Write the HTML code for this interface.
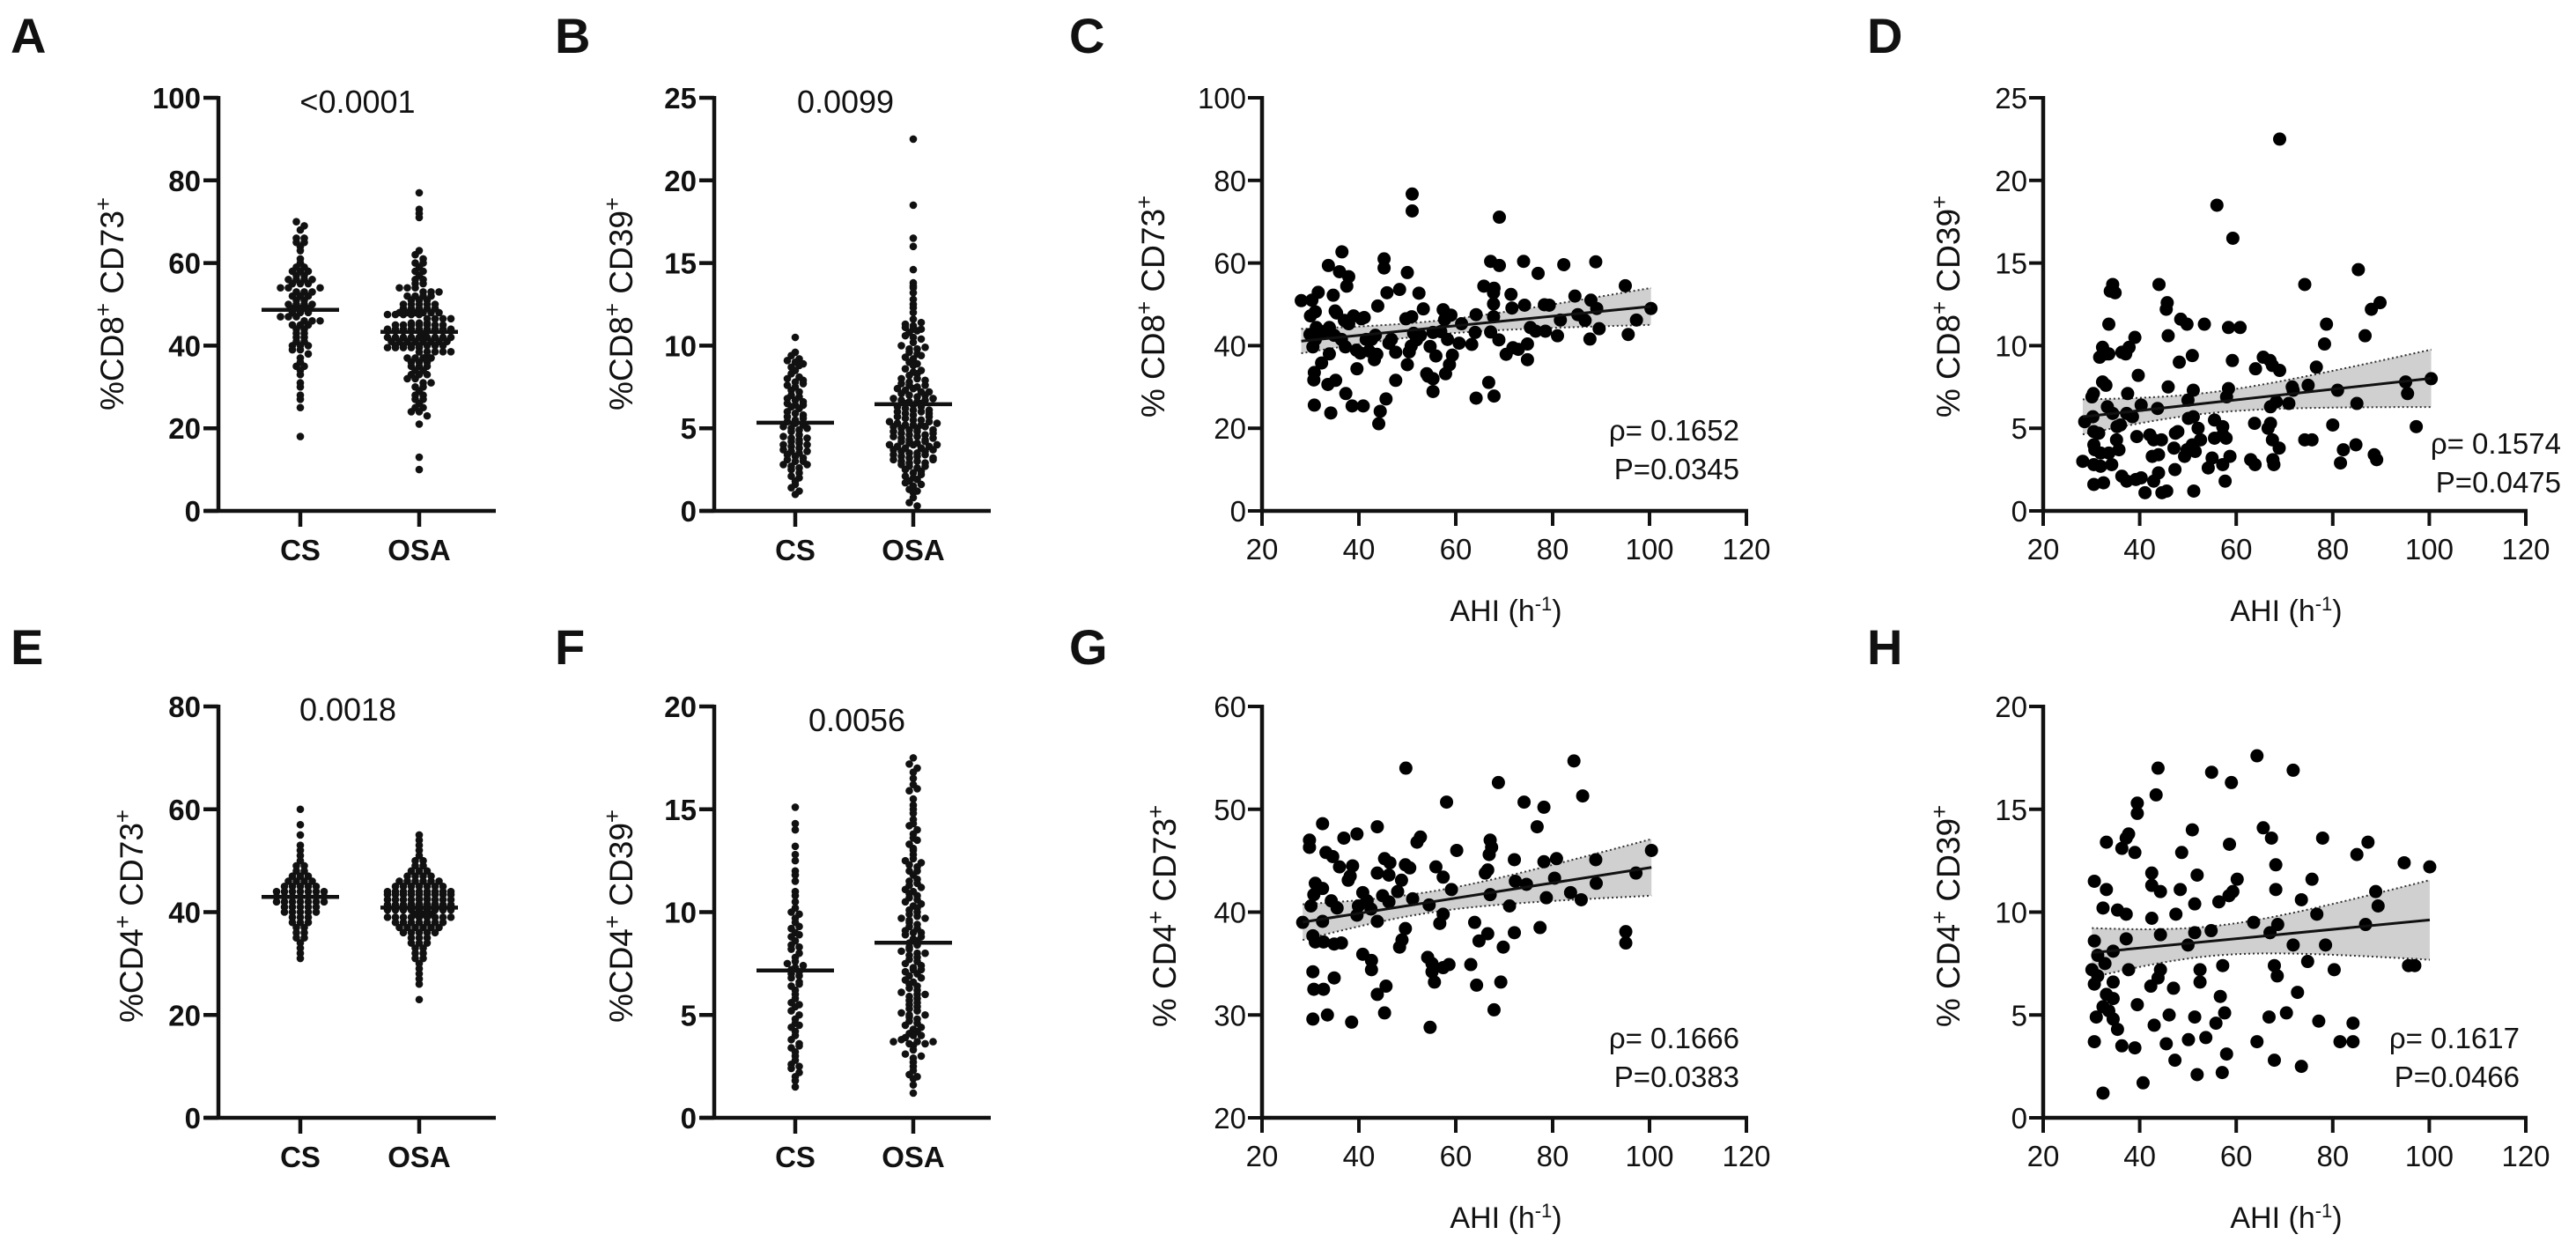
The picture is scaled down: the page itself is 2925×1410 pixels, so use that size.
<!DOCTYPE html>
<html><head><meta charset="utf-8"><style>
html,body{margin:0;padding:0;background:#fff;}
svg{display:block;font-family:"Liberation Sans",Arial,sans-serif;}
</style></head><body>
<svg id="fig" width="2925" height="1410" viewBox="0 0 2925 1410"></svg>
<script>
// ---------- DATA ----------
const catLabels = ["CS","OSA"];
const A_CS = [70,69,68,66,66,65,65,64,63,61,60,59,59,58,58,57,57,56,56,56,55,55,55,54,54,53,53,53,52,52,51,51,50,50,50,49,49,49,48,48,48,47,47,47,46,46,46,45,45,45,44,44,43,43,42,42,41,41,40,40,40,39,39,38,37,36,35,35,34,33,31,30,28,27,25,18,52,50,54,56,58];
const A_OSA = [77,73,72,71,63,62,61,60,60,59,58,58,57,56,56,55,55,54,54,54,53,53,53,52,52,52,52,51,51,51,50,50,50,50,50,49,49,49,49,49,48,48,48,48,48,47,47,47,47,47,46,46,46,46,46,46,45,45,45,45,45,45,44,44,44,44,44,44,44,43,43,43,43,43,43,43,43,42,42,42,42,42,42,42,41,41,41,41,41,41,40,40,40,40,40,40,39,39,39,39,39,38,38,38,38,37,37,37,37,36,36,36,35,35,35,34,34,33,33,33,32,32,31,31,30,30,29,28,28,27,27,26,25,25,24,24,23,21,13,10,44,43,42,41,45,46,47,48,42,43,44,41,40,39,38];
const B_CS = [10.5,9.6,9.4,9.1,9.0,8.9,8.7,8.5,8.3,8.1,8.0,7.8,7.6,7.5,7.3,7.2,7.0,6.8,6.7,6.6,6.5,6.4,6.3,6.2,6.0,5.9,5.8,5.7,5.5,5.4,5.3,5.2,5.1,5.0,4.9,4.8,4.6,4.5,4.4,4.3,4.2,4.1,4.0,3.9,3.8,3.7,3.6,3.5,3.4,3.3,3.2,3.1,3.0,2.8,2.7,2.6,2.5,2.3,2.1,2.0,1.8,1.6,1.4,1.2,1.0,6.4,5.6,4.4,3.6,2.8,5.0,4.0,3.0,7.7,8.8,6.9,7.9,9.2];
const B_OSA = [22.5,18.5,16.5,16.0,14.6,13.8,13.6,13.5,12.5,12.3,12.0,11.6,11.3,11.2,11.1,11.0,10.8,10.6,10.5,10.2,10.0,9.8,9.6,9.5,9.3,9.0,8.8,8.6,8.4,8.2,8.0,7.8,7.7,7.6,7.5,7.4,7.3,7.1,7.0,6.9,6.8,6.7,6.6,6.5,6.4,6.3,6.2,6.1,6.0,5.9,5.8,5.7,5.6,5.5,5.4,5.3,5.2,5.1,5.0,4.9,4.8,4.7,4.6,4.5,4.4,4.3,4.2,4.1,4.0,3.9,3.8,3.7,3.6,3.5,3.4,3.3,3.2,3.1,3.0,2.9,2.8,2.7,2.5,2.3,2.1,2.0,1.8,1.7,1.5,1.3,1.1,0.8,0.5,0.3,5.2,5.2,5.0,4.8,4.5,4.3,4.0,3.8,3.5,3.3,3.0,2.9,5.5,5.7,6.0,6.3,6.6,7.0,7.4,5.1,4.6,4.1,3.6,3.1,2.6,2.2,1.9,1.6,4.9,4.4,3.9,3.4,5.4,5.9,6.5,7.2,8.0,8.5,9.2,9.8,10.4,11.0,4.2,3.7,3.2,2.7,5.3,4.7,4.0,6.1,6.7,7.6,1.2,2.4,12.8,13.2,11.4,10.9,9.9,9.4,8.9,8.3,7.9,7.2,6.8];
const E_CS = [60,57,55,53,52,51,50,49,49,48,48,47,47,46,46,46,45,45,45,45,44,44,44,44,44,43,43,43,43,43,43,42,42,42,42,42,41,41,41,41,40,40,40,40,39,39,39,38,38,38,37,37,36,36,35,35,34,33,32,31,45,44,43,42,41,40,47,46,44,42];
const E_OSA = [55,54,53,52,51,50,50,49,49,48,48,48,47,47,47,47,46,46,46,46,46,45,45,45,45,45,45,44,44,44,44,44,44,44,43,43,43,43,43,43,43,43,42,42,42,42,42,42,42,42,42,41,41,41,41,41,41,41,41,41,40,40,40,40,40,40,40,40,39,39,39,39,39,39,39,38,38,38,38,38,38,37,37,37,37,37,36,36,36,36,35,35,35,34,34,34,33,33,32,32,31,31,30,29,28,27,26,23,44,43,42,41,40,39,42,41,43,40,38,45,46,44,42,41,40,39,43,42,41,40,37,36];
const F_CS = [15.1,14.3,14.0,13.2,12.5,12.0,11.5,11.0,10.5,10.2,10.0,9.7,9.5,9.2,9.0,8.8,8.6,8.4,8.2,8.0,7.8,7.6,7.5,7.3,7.2,7.0,6.8,6.6,6.4,6.2,6.0,5.8,5.6,5.4,5.2,5.0,4.8,4.6,4.4,4.2,4.0,3.8,3.6,3.4,3.2,3.0,2.8,2.6,2.4,2.2,2.0,1.8,1.5,7.4,7.1,6.9,8.3,9.3,10.8,5.5,4.5,3.5,2.5,6.5,12.8,11.8,9.9,8.9];
const F_OSA = [17.5,17.2,17.0,16.8,16.5,16.2,15.9,15.5,15.2,14.8,14.5,14.2,14.0,13.6,13.3,13.0,12.8,12.5,12.3,12.0,11.8,11.5,11.3,11.1,10.9,10.7,10.5,10.3,10.1,9.9,9.7,9.5,9.3,9.1,8.9,8.7,8.5,8.3,8.1,7.9,7.7,7.5,7.3,7.1,6.9,6.7,6.5,6.3,6.1,5.9,5.7,5.5,5.3,5.1,4.9,4.7,4.5,4.3,4.1,3.9,3.7,3.5,3.3,3.1,2.9,2.7,2.5,2.3,2.1,1.9,1.6,1.2,10.0,9.6,9.0,8.6,8.2,7.8,7.4,7.0,6.6,6.2,5.8,5.4,5.0,4.6,4.2,3.8,3.6,11.0,11.6,12.2,12.6,13.1,10.6,9.8,9.2,8.8,8.4,8.0,7.6,7.2,6.8,6.4,6.0,5.6,5.2,4.8,4.4,4.0,3.7,3.6,14.3,13.8,11.4,10.2,9.4,8.0,7.2,6.0,5.0,4.0,3.0,2.0,3.7,16.0,15.0,12.0,10.8,9.0,13.5,12.4,11.2,10.4,9.7];

const C_x = [28.1,51,51,69,36.5,33.7,45.2,45.2,50,36,37.9,37.5,67.2,69,74,77,82.3,88.9,95,100.3,97.3,95.6,89.6,87.7,86.7,84.6,87.9,89.1,85.2,81.6,81,79.3,78.3,78.5,76.5,75.4,74.2,74.8,74.8,72.9,71.8,71.6,71.4,70.4,68.9,67.8,67.8,67.8,67.2,67.9,65.8,64.2,64,63.3,64.2,66.8,67.9,61.2,59.3,58.7,57.9,58.3,57.4,57.7,59,55.3,55.3,54,54.3,55.9,55.3,54.7,53.3,52.4,51.9,50.4,50,50.8,50.9,49.7,48.4,47.6,47.6,46.7,45.8,45.6,44.1,44.4,43.9,43.7,43.2,42.6,42.1,40.9,40.3,39.6,40.5,39.5,38.9,38.6,37.3,37.2,37,36.4,35.2,34.2,33.6,33.9,34.9,34.7,33.9,32.8,32.3,31.6,31.2,31,31,30.8,30.7,30.8,30.3,30,30.5,29.9,35.1,35.4,37.9,41.1,41.5,43.4,46.2,51.3,52.7,56.9,60.7];
const C_y = [50.9,76.7,72.6,71.1,62.7,59.4,61,58.8,57.7,57.9,56.7,54.4,60.4,59.4,60.4,57.5,59.6,60.3,54.5,49,46.2,42.7,44.1,41.6,46.1,52,51,49,47.5,46.2,42.4,49.8,49.9,43.5,43.5,44.4,49.8,40.4,36.6,39.1,39.5,49.1,52.4,37.9,41.4,47,50.1,52.8,43.3,53.9,54.4,47.5,43.2,40.3,27.3,31.1,27.8,45.3,37.7,35.4,33.2,41.5,48.7,46.3,47.4,32,28.9,33.2,32.6,37.5,43.2,39.8,48.9,52.7,41.4,38.5,35.4,39.9,47,46.5,53.6,31.6,38.4,41.5,52.8,27.1,21.1,24.1,49.6,37.9,36.6,41.5,38.7,25.4,38.2,34.4,46.5,38.9,47.2,25.4,28.4,39.7,46.1,41.5,31.6,23.7,30.6,38,42.5,52.2,44.4,43.4,35.8,52.9,44.4,41.5,48.2,33.5,31.7,25.6,51,47.2,39.7,42.7,48.4,47.9,45.3,46.8,41.5,42.5,40.6,43,42.5,43.4,40.6];

const D_x = [69,56,59.3,85.3,74.2,44,34.4,33.9,34.9,45.7,45.5,89.8,88,33.6,48.5,49.8,53.4,58.4,60.8,78.7,86.7,45.9,39,78.3,32.3,33,33.6,31.7,36.3,37.8,37.1,50.9,48.2,59.2,65.6,67,67.5,69,64,76.6,39.7,32.3,33,45.9,74.9,71.6,71.8,81,95.1,100.4,95.5,30.4,30.1,37.5,51.1,58.4,58,50,68.3,70.9,85,67.1,40.3,43.7,33.3,34.4,30.3,28.6,37.3,38.5,36,35.3,50.1,51.1,55.5,52.1,57.2,63.8,67.1,66.6,80,97.3,30.5,31.5,39.4,42.1,42.9,44.5,47.9,47.4,52.6,55.5,57.2,57.9,67.5,74.2,75.7,35.2,35.7,30.5,31.9,30.7,33.6,47.1,49.8,50.9,51.5,49.3,42.6,43.9,55,58.7,63,63.9,67.6,67.8,68.9,82.2,84.8,88.6,89.1,81.6,28.2,30.5,31.9,34.2,36.3,37.3,39.2,40.3,42.9,43.9,47.3,54.2,57.2,57.7,30.5,32.5,41.1,44.6,45.6,51.2];
const D_y = [22.5,18.5,16.5,14.6,13.7,13.7,13.7,13.3,13.2,12.6,12.2,12.6,12.2,11.3,11.6,11.3,11.3,11.1,11.1,11.3,10.6,10.6,10.5,10.1,9.9,9.5,9.5,9.3,9.6,9.9,9.5,9.4,9,9.1,9.3,9.1,8.8,8.5,8.6,8.7,8.2,7.8,7.6,7.5,7.6,7.5,7.3,7.3,7.8,8,7.1,7.1,6.9,7.1,7.3,7.4,6.9,6.7,6.6,6.5,6.5,6.3,6.4,6.2,6.3,5.9,5.7,5.4,5.9,5.7,5.2,5.1,5.6,5.7,5.5,5,5.1,5.3,5.3,5,5.2,5.1,4.8,4.7,4.5,4.6,4.3,4.3,4.8,4.7,4.3,4.4,4.6,4.4,4.3,4.3,4.3,4.3,3.7,4,3.5,3.7,3.5,3.8,3.7,4,3.6,3.3,3.3,3.4,3.2,3.3,3.1,2.8,3.1,2.8,3.8,3.7,4,3.4,3.1,2.9,3,2.8,2.7,2.8,2.1,1.8,1.9,2,1.8,2.3,2.5,2.6,2.8,1.8,1.6,1.7,1.1,1.1,1.2,1.2];

const G_x = [49.7,84.4,68.8,86.2,58.1,74.1,78.2,76.8,32.5,29.8,29.8,36.9,39.6,43.8,52.7,52,60.2,67.1,67.4,66.9,72.1,78.2,80.8,88.9,100.4,97.2,33.2,34.6,36,38.7,45.3,46.4,49.6,50.5,43.8,46.2,55.9,57.4,66.6,66.1,72.3,74.6,80.4,89,83.7,85.9,78.7,67.1,71.1,59.1,48.8,48,51.1,31,32.5,30.7,34.3,35.5,37.8,38.2,40.8,41.7,44.9,46.2,39.9,42.5,54.5,57.4,30.1,28.4,32.5,39.6,43.8,56.7,63.9,66.6,72.1,77.4,95.1,95.1,30.5,31,32.7,34.9,36.4,49.6,48.9,48.4,64.8,69.8,40.8,42.6,42.6,54.2,55.1,57.4,58.6,63.1,55.1,30.5,30.7,32.7,34.9,43.8,45.6,55.6,64.3,69.3,30.5,33.5,38.5,45.3,67.9,54.7];
const G_y = [54,54.7,52.6,51.3,50.7,50.7,50.2,48.3,48.6,47,46.3,47.2,47.6,48.3,47.3,46.8,46,47,46.3,45.6,45.1,44.9,45.2,45.1,46,43.8,45.8,45.4,44.4,44.5,45.2,44.8,44.6,44.3,43.8,43.6,44.4,43.4,44.1,43.8,43,42.7,43.3,42.8,41.9,41.2,41.4,41.7,40.6,42.2,43.1,42,41.3,42.8,42.3,41.7,41.1,40.4,43.1,43.5,41.9,41.1,41.6,41,40.6,40.3,40.7,39.8,40.6,39,39.1,39.7,39.1,38.9,39,37.9,38,38.5,38.1,37,37.7,37.1,37.1,36.9,37,38.4,37.3,36.6,37.2,36.6,35.9,35.3,34.4,35.6,35,34.6,34.9,34.9,34.2,34.2,32.5,32.5,33.6,32,32.8,33.2,32.9,33.2,29.6,30,29.3,30.2,30.5,28.8];

const H_x = [64.3,43.8,54.9,71.8,59,43.4,39.5,39.5,65.6,50.9,37.7,37.2,33.1,36.3,39,58.6,67.3,77.9,87.3,85,48.7,94.8,100.1,68.2,42.5,51.9,60.2,75.7,30.6,33.1,42.5,44.3,48.4,68.2,59.3,88.9,89.4,73.5,58.5,56.4,51.4,32.4,35.4,37.2,47.5,42.5,63.6,68.6,76.7,86.8,54.8,67,51.4,44.3,37.2,30.6,50,34.5,71.8,78.5,31.3,32.8,57.2,67.9,74.8,80.3,95.7,97,30.1,31.3,37.7,44.3,43.8,52.5,68.5,30.6,34.5,42.3,47,52.5,33.1,34.5,56.7,72.7,32.4,33.6,39.5,31,34.5,46.1,51.4,57.6,66.8,70.4,35.4,43,55.8,77.1,84.2,30.6,36.3,39,45.5,50.1,53.7,64.3,81.5,84.2,47.3,58,67.9,73.5,51.9,57.1,40.7,32.4];
const H_y = [17.6,17,16.8,16.9,16.3,15.7,15.3,14.8,14.1,14,13.8,13.6,13.4,13.1,12.9,13.3,13.6,13.6,13.4,12.8,12.9,12.4,12.2,12.3,11.9,11.8,11.6,11.6,11.5,11.1,11.3,11,11.1,11.1,11,11,10.3,10.6,10.8,10.5,10.4,10.2,10.1,9.9,9.9,9.7,9.5,9.4,9.9,9.4,9.1,9,9,8.9,8.7,8.6,8.4,8.1,8.4,8.4,7.9,7.5,7.4,7.4,7.6,7.2,7.4,7.4,7.2,6.9,7.2,7.2,6.8,7.2,6.9,6.5,6.6,6.4,6.3,6.6,6,5.8,5.9,6.1,5.4,5.2,5.5,4.9,4.8,5,4.9,5.1,4.9,5.1,4.3,4.5,4.6,4.7,4.6,3.7,3.5,3.4,3.6,3.8,3.9,3.7,3.7,3.7,2.8,3.1,2.8,2.5,2.1,2.2,1.7,1.2];

const colTicksA=[0,20,40,60,80,100], colTicksB=[0,5,10,15,20,25], colTicksE=[0,20,40,60,80], colTicksF=[0,5,10,15,20];
const ahiTicks=[20,40,60,80,100,120];
const scTicksC=[0,20,40,60,80,100], scTicksD=[0,5,10,15,20,25], scTicksG=[20,30,40,50,60], scTicksH=[0,5,10,15,20];

// ---------- DRAW ----------
const NS="http://www.w3.org/2000/svg";
const svg=document.getElementById('fig');
function mk(tag,attrs,parent){const e=document.createElementNS(NS,tag);for(const k in attrs)e.setAttribute(k,attrs[k]);(parent||svg).appendChild(e);return e;}
function txt(s,x,y,size,weight,anchor,parent){const t=mk('text',{x:x,y:y,'font-size':size,'font-weight':weight,'text-anchor':anchor,fill:'#111'},parent);t.textContent=s;return t;}
function mean(a){return a.reduce((p,q)=>p+q,0)/a.length;}

function yTitle(parent,cx,cy,parts,size){
  const t=mk('text',{x:0,y:0,'font-size':size,'text-anchor':'middle',fill:'#111',transform:`translate(${cx},${cy}) rotate(-90)`},parent);
  
  
  parts.forEach(p=>{const s=mk('tspan',{},t);if(p[1]){s.setAttribute('baseline-shift','super');s.setAttribute('font-size',size*0.7);}s.textContent=p[0];});
}

function columnPanel(name,ax,top,bot,xEnd,cats,groups,ticks,pText,pX,pY,title,titleX,titleY){
  const g=mk('g',{});
  
  
  const ymax=ticks[ticks.length-1];
  const Y=v=>bot-(v/ymax)*(bot-top);
  const ya=mk('line',{x1:ax,y1:top-2,x2:ax,y2:bot+2,stroke:'#111','stroke-width':4.5},g);
  
  const xa=mk('line',{x1:ax-16,y1:bot,x2:xEnd,y2:bot,stroke:'#111','stroke-width':4.5},g);
  
  ticks.forEach(v=>{
    mk('line',{x1:ax-17,y1:Y(v),x2:ax,y2:Y(v),stroke:'#111','stroke-width':4.5},g);
    const t=txt(String(v),ax-20,Y(v)+12,33,'bold','end',g);
    
  });
  const d=9,r=4.3,cap=9;
  groups.forEach((vals,i)=>{
    const cx=cats[i];
    mk('line',{x1:cx,y1:bot,x2:cx,y2:bot+18,stroke:'#111','stroke-width':4.5},g);
    const cl=txt(catLabels[i],cx,bot+56,33,'bold','middle',g);
    
    const rows={};
    vals.forEach(v=>{const k=Math.round(Y(v)/(d*0.6));(rows[k]=rows[k]||[]).push(v);});
    Object.keys(rows).forEach(k=>{
      const arr=rows[k];
      const sub=Math.ceil(arr.length/cap);
      arr.forEach((v,j)=>{
        const si=Math.floor(j/cap);
        const inRow=Math.min(cap,arr.length-si*cap);
        const jj=j-si*cap;
        const dy=(si-(sub-1)/2)*d*0.55;
        const stagger=(si%2)*d*0.5;
        const c=mk('circle',{cx:cx+(jj-(inRow-1)/2)*d+stagger,cy:Y(v)+dy,r:r,fill:'#111'},g);
        
        
      });
    });
    const m=mean(vals);
    const ml=mk('line',{x1:cx-44,y1:Y(m),x2:cx+44,y2:Y(m),stroke:'#111','stroke-width':4.5},g);
    
  });
  const p=txt(pText,pX,pY,36,'normal','middle',g);
  
  yTitle(g,titleX,titleY,title,37);
}

function scatterPanel(name,ax,axEnd,top,bot,xs,ys,yt,rho,pv,statX,statY,title,titleX,titleY,xlabY){
  const g=mk('g',{});
  
  
  const y0=yt[0],y1=yt[yt.length-1];
  const X=v=>ax+(v-20)/100*(axEnd-ax);
  const Y=v=>bot-(v-y0)/(y1-y0)*(bot-top);
  const n=xs.length;const mx=mean(xs),my=mean(ys);
  let sxx=0,sxy=0;for(let i=0;i<n;i++){sxx+=(xs[i]-mx)**2;sxy+=(xs[i]-mx)*(ys[i]-my);}
  const b=sxy/sxx,a=my-b*mx;let sse=0;for(let i=0;i<n;i++)sse+=(ys[i]-a-b*xs[i])**2;
  const s=Math.sqrt(sse/(n-2));const lo=Math.min(...xs),hi=Math.max(...xs);
  const up=[],dn=[];
  for(let k=0;k<=40;k++){const x=lo+(hi-lo)*k/40;const se=1.975*s*Math.sqrt(1/n+(x-mx)**2/sxx);up.push([X(x),Y(a+b*x+se)]);dn.push([X(x),Y(a+b*x-se)]);}
  const band=mk('path',{d:'M'+up.map(p=>p.join(',')).join('L')+'L'+[...dn].reverse().map(p=>p.join(',')).join('L')+'Z',fill:'#d0d0d0',stroke:'none'},g);
  
  mk('polyline',{points:up.map(p=>p.join(',')).join(' '),fill:'none',stroke:'#333','stroke-width':2,'stroke-dasharray':'2,3'},g);
  mk('polyline',{points:dn.map(p=>p.join(',')).join(' '),fill:'none',stroke:'#333','stroke-width':2,'stroke-dasharray':'2,3'},g);
  for(let i=0;i<n;i++){
    const c=mk('circle',{cx:X(xs[i]),cy:Y(ys[i]),r:7.5,fill:'#000'},g);
    
    
  }
  const rl=mk('line',{x1:X(lo),y1:Y(a+b*lo),x2:X(hi),y2:Y(a+b*hi),stroke:'#111','stroke-width':3},g);
  
  const ya=mk('line',{x1:ax,y1:top-2,x2:ax,y2:bot+2,stroke:'#111','stroke-width':4.5},g);
  
  const xa=mk('line',{x1:ax,y1:bot,x2:axEnd+2,y2:bot,stroke:'#111','stroke-width':4.5},g);
  
  yt.forEach(v=>{
    mk('line',{x1:ax-16,y1:Y(v),x2:ax,y2:Y(v),stroke:'#111','stroke-width':4},g);
    const t=txt(String(v),ax-18,Y(v)+12,33,'normal','end',g);
    
  });
  ahiTicks.forEach(v=>{
    mk('line',{x1:X(v),y1:bot,x2:X(v),y2:bot+17,stroke:'#111','stroke-width':4},g);
    const t=txt(String(v),X(v),bot+55,33,'normal','middle',g);
    
  });
  const xl=mk('text',{x:(ax+axEnd)/2+2,y:xlabY,'font-size':34,'text-anchor':'middle',fill:'#111'},g);
  
  const s1=mk('tspan',{},xl);s1.textContent='AHI (h';
  const s2=mk('tspan',{'baseline-shift':'super','font-size':22},xl);s2.textContent='-1';
  const s3=mk('tspan',{},xl);s3.textContent=')';
  const r1=txt('ρ= '+rho,statX,statY,33,'normal','end',g);
  
  const r2=txt('P='+pv,statX,statY+44,33,'normal','end',g);
  
  yTitle(g,titleX,titleY,title,37);
}

[['A',12,60],['B',630,60],['C',1214,60],['D',2120,60],['E',12,754],['F',630,754],['G',1214,754],['H',2120,754]].forEach(l=>{
  const t=txt(l[0],l[1],l[2],56,'bold','start');
  
  
});

columnPanel('panel-a',248,111,580,563,[341,476],[A_CS,A_OSA],colTicksA,'<0.0001',406,128,[['%CD8'],['+',1],[' CD73'],['+',1]],140,345);
columnPanel('panel-b',811,111,580,1125,[903,1037],[B_CS,B_OSA],colTicksB,'0.0099',960,128,[['%CD8'],['+',1],[' CD39'],['+',1]],718,345);
columnPanel('panel-e',248,802,1269,563,[341,476],[E_CS,E_OSA],colTicksE,'0.0018',395,818,[['%CD4'],['+',1],[' CD73'],['+',1]],162,1040);
columnPanel('panel-f',811,802,1269,1125,[903,1037],[F_CS,F_OSA],colTicksF,'0.0056',973,830,[['%CD4'],['+',1],[' CD39'],['+',1]],718,1040);

scatterPanel('panel-c',1433,1983,111,580,C_x,C_y,scTicksC,'0.1652','0.0345',1975,500,[['% CD8'],['+',1],[' CD73'],['+',1]],1322,348,705);
scatterPanel('panel-d',2320,2868,111,580,D_x,D_y,scTicksD,'0.1574','0.0475',2908,515,[['% CD8'],['+',1],[' CD39'],['+',1]],2225,348,705);
scatterPanel('panel-g',1433,1983,802,1269,G_x,G_y,scTicksG,'0.1666','0.0383',1975,1190,[['% CD4'],['+',1],['  CD73'],['+',1]],1335,1040,1394);
scatterPanel('panel-h',2320,2868,802,1269,H_x,H_y,scTicksH,'0.1617','0.0466',2861,1190,[['% CD4'],['+',1],[' CD39'],['+',1]],2225,1040,1394);
</script>
</body></html>
